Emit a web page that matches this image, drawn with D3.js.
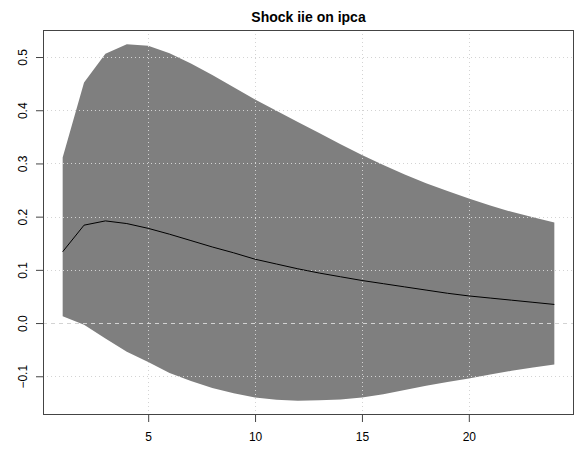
<!DOCTYPE html>
<html>
<head>
<meta charset="utf-8">
<script src="https://cdnjs.cloudflare.com/ajax/libs/d3/7.8.5/d3.min.js"></script>
<style>
  html, body { margin: 0; padding: 0; background: #fff; }
  svg { display: block; font-family: "Liberation Sans", Arial, sans-serif; }
</style>
</head>
<body>
<svg id="chart" width="576" height="450"></svg>
<script>
// Impulse response horizon (periods)
const horizon = d3.range(1, 25);
// Point estimate of the response
const response = [0.134, 0.184, 0.192, 0.187, 0.178, 0.167, 0.155, 0.143, 0.132, 0.120, 0.111, 0.102,
                  0.094, 0.087, 0.080, 0.074, 0.068, 0.062, 0.056, 0.051, 0.047, 0.043, 0.039, 0.035];
// Upper confidence bound
const upper = [0.311, 0.452, 0.506, 0.524, 0.521, 0.507, 0.488, 0.466, 0.443, 0.420, 0.399, 0.378,
               0.357, 0.336, 0.316, 0.297, 0.279, 0.263, 0.248, 0.234, 0.221, 0.209, 0.199, 0.189];
// Lower confidence bound
const lower = [0.013, -0.003, -0.029, -0.054, -0.073, -0.094, -0.109, -0.122, -0.132, -0.140, -0.144, -0.146,
               -0.145, -0.1435, -0.140, -0.134, -0.126, -0.118, -0.111, -0.104, -0.0965, -0.0897, -0.0833, -0.078];
const xTicks = [5, 10, 15, 20];
const yTicks = [-0.1, 0.0, 0.1, 0.2, 0.3, 0.4, 0.5];
const title = "Shock iie on ipca";

const svg = d3.select("#chart");
const plot = { left: 43, right: 574, top: 30, bottom: 415 };

// Domains padded by 4% like base graphics
function padded(lo, hi) { const d = (hi - lo) * 0.04; return [lo - d, hi + d]; }
const x = d3.scaleLinear().domain(padded(d3.min(horizon), d3.max(horizon))).range([plot.left, plot.right]);
const yMin = d3.min(lower), yMax = d3.max(upper);
const y = d3.scaleLinear().domain(padded(yMin, yMax)).range([plot.bottom, plot.top]);

const rows = horizon.map((h, i) => ({ h, r: response[i], u: upper[i], l: lower[i] }));

// Confidence band
svg.append("path")
  .datum(rows)
  .attr("fill", "#7f7f7f")
  .attr("stroke", "none")
  .attr("d", d3.area().x(d => x(d.h)).y0(d => y(d.l)).y1(d => y(d.u)));

// Grid
const grid = svg.append("g").attr("stroke", "#d3d3d3").attr("stroke-width", 1).attr("fill", "none");
xTicks.forEach(t => {
  grid.append("line").attr("x1", Math.round(x(t)) + 0.5).attr("x2", Math.round(x(t)) + 0.5)
    .attr("y1", plot.top).attr("y2", plot.bottom).attr("stroke-dasharray", "1,3");
});
yTicks.forEach(t => {
  if (t === 0) return;
  grid.append("line").attr("y1", Math.round(y(t)) + 0.5).attr("y2", Math.round(y(t)) + 0.5)
    .attr("x1", plot.left).attr("x2", plot.right).attr("stroke-dasharray", "1,3");
});
// Zero reference line
grid.append("line").attr("y1", Math.round(y(0)) + 0.5).attr("y2", Math.round(y(0)) + 0.5)
  .attr("x1", plot.left).attr("x2", plot.right).attr("stroke-dasharray", "4,4");

// Response line
svg.append("path")
  .datum(rows)
  .attr("fill", "none")
  .attr("stroke", "#000")
  .attr("stroke-width", 1)
  .attr("d", d3.line().x(d => x(d.h)).y(d => y(d.r)));

// Axes
const xAxis = svg.append("g")
  .attr("transform", `translate(0,${plot.bottom})`)
  .call(d3.axisBottom(x).tickValues(xTicks).tickSize(7).tickPadding(10).tickFormat(d3.format("d")));
const yAxis = svg.append("g")
  .attr("transform", `translate(${plot.left},0)`)
  .call(d3.axisLeft(y).tickValues(yTicks).tickSize(7).tickPadding(6).tickFormat(d3.format(".1f")));
[xAxis, yAxis].forEach(g => {
  g.select(".domain").remove();
  g.selectAll(".tick line").attr("stroke", "#444");
  g.selectAll("text").attr("font-size", 12).attr("fill", "#000")
    .attr("font-family", "'Liberation Sans', Arial, sans-serif");
});
yAxis.selectAll(".tick text")
  .attr("text-anchor", "middle")
  .attr("x", 0).attr("dy", 0)
  .attr("transform", "translate(-16,0) rotate(-90)")
  .attr("y", 0);

// Plot frame
svg.append("rect")
  .attr("x", plot.left + 0.5).attr("y", plot.top + 0.5)
  .attr("width", plot.right - plot.left - 1).attr("height", plot.bottom - plot.top - 1)
  .attr("fill", "none").attr("stroke", "#444").attr("stroke-width", 1);

// Title
svg.append("text")
  .attr("x", (plot.left + plot.right) / 2).attr("y", 22)
  .attr("text-anchor", "middle")
  .attr("font-size", 14).attr("font-weight", "bold")
  .text(title);
</script>
</body>
</html>
